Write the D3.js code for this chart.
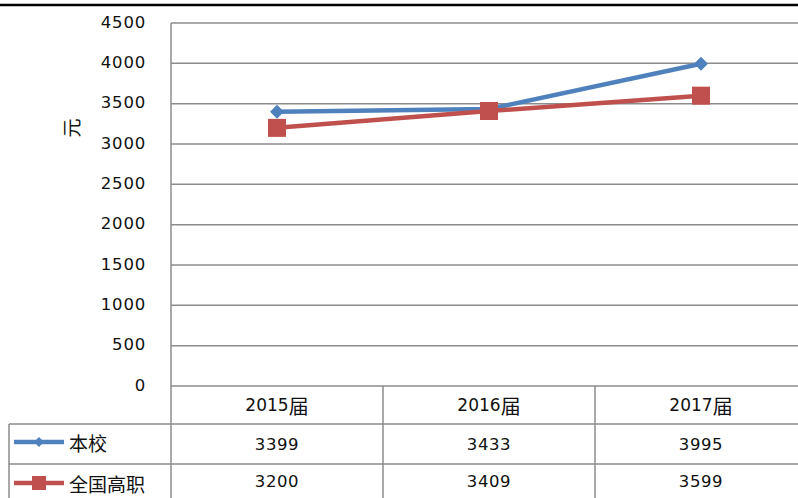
<!DOCTYPE html>
<html><head><meta charset="utf-8">
<script src="https://cdn.jsdelivr.net/npm/d3@7"></script>
<style>body{margin:0;background:#fff}svg{display:block}</style>
</head><body>
<script>
const categories = ["2015届", "2016届", "2017届"];
const seriesNames = ["本校", "全国高职"];
const schoolValues = [3399, 3433, 3995];
const nationalValues = [3200, 3409, 3599];
const yTicks = [0, 500, 1000, 1500, 2000, 2500, 3000, 3500, 4000, 4500];

(function () {
const W = 798, H = 498;
const svg = d3.select("body").append("svg").attr("width", W).attr("height", H);
const font = "'DejaVu Sans', Verdana, 'Noto Sans CJK SC', sans-serif";
const cjk = "'Noto Sans CJK SC', sans-serif";
const gridColor = "#8c8c8c";

const plotLeft = 171, plotTop = 23, plotBottom = 386, bandW = 212;
const x = d3.scaleBand().domain(categories).range([plotLeft, plotLeft + bandW * 3]).padding(0);
const y = d3.scaleLinear().domain([0, 4500]).range([plotBottom, plotTop]);

// top black rule
svg.append("line").attr("x1", 0).attr("x2", W).attr("y1", 5).attr("y2", 5)
  .attr("stroke", "#000").attr("stroke-width", 2.5);

// gridlines
svg.append("g").selectAll("line").data(yTicks).join("line")
  .attr("x1", plotLeft).attr("x2", W).attr("y1", d => y(d)).attr("y2", d => y(d))
  .attr("stroke", gridColor).attr("stroke-width", 1.5);
svg.append("line").attr("x1", plotLeft).attr("x2", plotLeft).attr("y1", plotTop).attr("y2", plotBottom)
  .attr("stroke", gridColor).attr("stroke-width", 1.5);

// y axis labels
const yAxis = d3.axisLeft(y).tickValues(yTicks).tickFormat(d3.format("d")).tickSize(0).tickPadding(0);
const ga = svg.append("g").attr("transform", `translate(146,0)`).call(yAxis);
ga.select(".domain").remove();
ga.selectAll("text").attr("font-family", font).attr("font-size", 16.5).attr("fill", "#111")
  .attr("dy", "0.25em").attr("letter-spacing", 0.8);

// y title
svg.append("text").attr("transform", "translate(70,128) rotate(-90)")
  .attr("text-anchor", "middle").attr("dominant-baseline", "central")
  .attr("font-family", cjk).attr("font-size", 19).attr("fill", "#111").text("元");

// lines
const cx = d => x(d) + x.bandwidth() / 2;
const series = [
  {name: seriesNames[0], values: schoolValues, color: "#4F81BD", marker: "diamond"},
  {name: seriesNames[1], values: nationalValues, color: "#C0504D", marker: "square"}
];
const line = d3.line().x((d, i) => cx(categories[i])).y(d => y(d));
series.forEach(s => {
  svg.append("path").datum(s.values).attr("d", line).attr("fill", "none")
    .attr("stroke", s.color).attr("stroke-width", 4.5).attr("stroke-linejoin", "round");
});
function drawMarker(g, type, color, px, py, size) {
  if (type === "square") {
    g.append("rect").attr("x", px - size / 2).attr("y", py - size / 2)
      .attr("width", size).attr("height", size).attr("fill", color);
  } else {
    const h = size / 2;
    g.append("path").attr("d", `M${px},${py - h}L${px + h},${py}L${px},${py + h}L${px - h},${py}Z`).attr("fill", color);
  }
}
series.forEach(s => {
  const g = svg.append("g");
  s.values.forEach((v, i) => drawMarker(g, s.marker, s.color, cx(categories[i]), y(v), s.marker === "square" ? 18 : 14));
});

// data table
const rowY = [386, 424, 464, 502];
const tab = svg.append("g").attr("stroke", gridColor).attr("stroke-width", 1.5);
tab.append("line").attr("x1", 9).attr("x2", W).attr("y1", rowY[1]).attr("y2", rowY[1]);
tab.append("line").attr("x1", 9).attr("x2", W).attr("y1", rowY[2]).attr("y2", rowY[2]);
tab.append("line").attr("x1", 9).attr("x2", 9).attr("y1", rowY[1]).attr("y2", H);
tab.append("line").attr("x1", plotLeft).attr("x2", plotLeft).attr("y1", rowY[0]).attr("y2", H);
categories.forEach(c => {
  tab.append("line").attr("x1", x(c) + x.bandwidth()).attr("x2", x(c) + x.bandwidth())
    .attr("y1", rowY[0]).attr("y2", H);
});
// header: digits in Latin font, 届 in CJK font at larger size
const hdr = svg.append("g").selectAll("text").data(categories).join("text")
  .attr("x", d => cx(d)).attr("y", (rowY[0] + rowY[1]) / 2)
  .attr("text-anchor", "middle").attr("dominant-baseline", "central")
  .attr("font-family", font).attr("font-size", 17).attr("fill", "#111");
hdr.append("tspan").text(d => d.replace("届", ""));
hdr.append("tspan").attr("font-family", cjk).attr("font-size", 20).text("届");
// rows
series.forEach((s, r) => {
  const ym = (rowY[r + 1] + rowY[r + 2]) / 2 - (r === 1 ? 2 : 0);
  svg.append("g").selectAll("text").data(s.values).join("text")
    .attr("x", (d, i) => cx(categories[i])).attr("y", ym)
    .attr("text-anchor", "middle").attr("dominant-baseline", "central")
    .attr("font-family", font).attr("font-size", 16.5).attr("fill", "#111").attr("letter-spacing", 0.6).text(d => d);
  const ly = rowY[r + 1] + 18 + (r === 1 ? 1 : 0);
  svg.append("line").attr("x1", 14).attr("x2", 64).attr("y1", ly).attr("y2", ly)
    .attr("stroke", s.color).attr("stroke-width", 4.5);
  drawMarker(svg.append("g"), s.marker, s.color, 39, ly, s.marker === "square" ? 14 : 10);
  svg.append("text").attr("x", 69).attr("y", ly).attr("dominant-baseline", "central")
    .attr("font-family", cjk).attr("font-size", 19).attr("fill", "#111").text(s.name);
});
})();
</script>
</body></html>
